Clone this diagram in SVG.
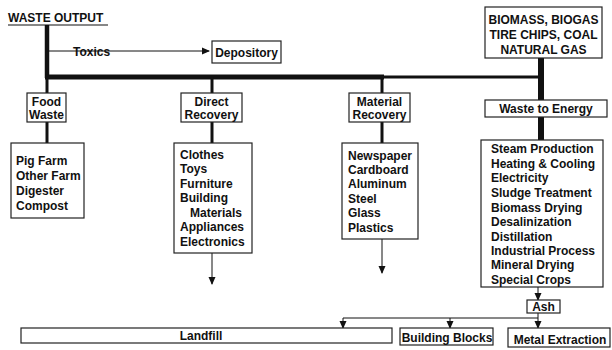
<svg xmlns="http://www.w3.org/2000/svg" width="612" height="350" viewBox="0 0 612 350">
<defs>
<marker id="ah" markerWidth="8" markerHeight="8" refX="7" refY="4" orient="auto" markerUnits="userSpaceOnUse">
<path d="M0,0.5 L8,4 L0,7.5 Z" fill="#111"/>
</marker>
<style>
text{font-family:"Liberation Sans",Arial,sans-serif;font-weight:bold;font-size:12px;fill:#111}
.c{text-anchor:middle}
.box{fill:#fff;stroke:#222;stroke-width:1.2}
.ln{stroke:#111;fill:none}
</style>
</defs>
<rect width="612" height="350" fill="#fff"/>
<g id="connectors">
<line class="ln" x1="47" y1="25" x2="47" y2="78" stroke-width="4.5"/>
<line class="ln" x1="45" y1="77" x2="384" y2="77" stroke-width="5"/>
<line class="ln" x1="382" y1="77" x2="543" y2="77" stroke-width="3"/>
<line class="ln" x1="47" y1="51" x2="209" y2="51" stroke-width="1" marker-end="url(#ah)"/>
<line class="ln" x1="47" y1="77" x2="47" y2="93" stroke-width="3"/>
<line class="ln" x1="47" y1="122" x2="47" y2="143" stroke-width="3"/>
<line class="ln" x1="212" y1="77" x2="212" y2="93" stroke-width="3"/>
<line class="ln" x1="212" y1="122" x2="212" y2="143" stroke-width="3"/>
<line class="ln" x1="382" y1="77" x2="382" y2="93" stroke-width="3"/>
<line class="ln" x1="382" y1="122" x2="382" y2="143" stroke-width="3"/>
<line class="ln" x1="541" y1="58" x2="541" y2="100" stroke-width="6"/>
<line class="ln" x1="541" y1="117" x2="541" y2="140" stroke-width="6"/>
<line class="ln" x1="212" y1="253" x2="212" y2="284" stroke-width="1" marker-end="url(#ah)"/>
<line class="ln" x1="382" y1="239" x2="382" y2="273" stroke-width="1" marker-end="url(#ah)"/>
<line class="ln" x1="538" y1="287" x2="538" y2="300" stroke-width="1" marker-end="url(#ah)"/>
<line class="ln" x1="538" y1="313" x2="538" y2="328" stroke-width="1" marker-end="url(#ah)"/>
<line class="ln" x1="343" y1="318" x2="538" y2="318" stroke-width="1"/>
<line class="ln" x1="343" y1="318" x2="343" y2="328" stroke-width="1" marker-end="url(#ah)"/>
<line class="ln" x1="450" y1="318" x2="450" y2="328" stroke-width="1" marker-end="url(#ah)"/>
</g>
<g id="waste-output">
<text x="8" y="22">WASTE OUTPUT</text>
<line class="ln" x1="8" y1="25" x2="108" y2="25" stroke-width="1.2"/>
</g>
<g id="toxics-label"><text x="73" y="56">Toxics</text></g>
<g id="depository">
<rect class="box" x="212" y="41" width="69" height="22"/>
<text class="c" x="246.5" y="57">Depository</text>
</g>
<g id="fuels">
<rect class="box" x="485" y="7" width="117" height="51"/>
<text class="c" x="543.5" y="24">BIOMASS, BIOGAS</text>
<text class="c" x="543.5" y="39">TIRE CHIPS, COAL</text>
<text class="c" x="543.5" y="54">NATURAL GAS</text>
</g>
<g id="food-waste">
<rect class="box" x="27" y="93" width="39" height="29"/>
<text class="c" x="46.5" y="106">Food</text>
<text class="c" x="46.5" y="119">Waste</text>
</g>
<g id="direct-recovery">
<rect class="box" x="181" y="93" width="61" height="29"/>
<text class="c" x="211.5" y="106">Direct</text>
<text class="c" x="211.5" y="119">Recovery</text>
</g>
<g id="material-recovery">
<rect class="box" x="349" y="93" width="61" height="29"/>
<text class="c" x="379.5" y="106">Material</text>
<text class="c" x="379.5" y="119">Recovery</text>
</g>
<g id="waste-to-energy">
<rect class="box" x="485" y="100" width="122" height="17"/>
<text class="c" x="546" y="113">Waste to Energy</text>
</g>
<g id="food-items">
<rect class="box" x="11" y="143" width="73" height="75"/>
<text x="16" y="165">Pig Farm</text>
<text x="16" y="180">Other Farm</text>
<text x="16" y="195">Digester</text>
<text x="16" y="210">Compost</text>
</g>
<g id="direct-items">
<rect class="box" x="174" y="143" width="78" height="110"/>
<text x="180" y="159">Clothes</text>
<text x="180" y="173">Toys</text>
<text x="180" y="188">Furniture</text>
<text x="180" y="202">Building</text>
<text x="190" y="217">Materials</text>
<text x="180" y="231">Appliances</text>
<text x="180" y="246">Electronics</text>
</g>
<g id="material-items">
<rect class="box" x="342" y="143" width="76" height="96"/>
<text x="348" y="160">Newspaper</text>
<text x="348" y="174">Cardboard</text>
<text x="348" y="188">Aluminum</text>
<text x="348" y="203">Steel</text>
<text x="348" y="217">Glass</text>
<text x="348" y="232">Plastics</text>
</g>
<g id="energy-items">
<rect class="box" x="481" y="140" width="122" height="147"/>
<text x="491" y="153">Steam Production</text>
<text x="491" y="168">Heating &amp; Cooling</text>
<text x="491" y="182">Electricity</text>
<text x="491" y="197">Sludge Treatment</text>
<text x="491" y="212">Biomass Drying</text>
<text x="491" y="226">Desalinization</text>
<text x="491" y="241">Distillation</text>
<text x="491" y="255">Industrial Process</text>
<text x="491" y="269">Mineral Drying</text>
<text x="491" y="284">Special Crops</text>
</g>
<g id="ash">
<rect class="box" x="527" y="300" width="33" height="13"/>
<text class="c" x="543.5" y="311">Ash</text>
</g>
<g id="landfill">
<rect class="box" x="21" y="328" width="371" height="15"/>
<text class="c" x="201" y="340">Landfill</text>
</g>
<g id="building-blocks">
<rect class="box" x="400" y="328" width="93" height="17"/>
<text class="c" x="447" y="342">Building Blocks</text>
</g>
<g id="metal-extraction">
<rect class="box" x="508" y="328" width="102" height="19"/>
<text class="c" x="560" y="344">Metal Extraction</text>
</g>
</svg>
